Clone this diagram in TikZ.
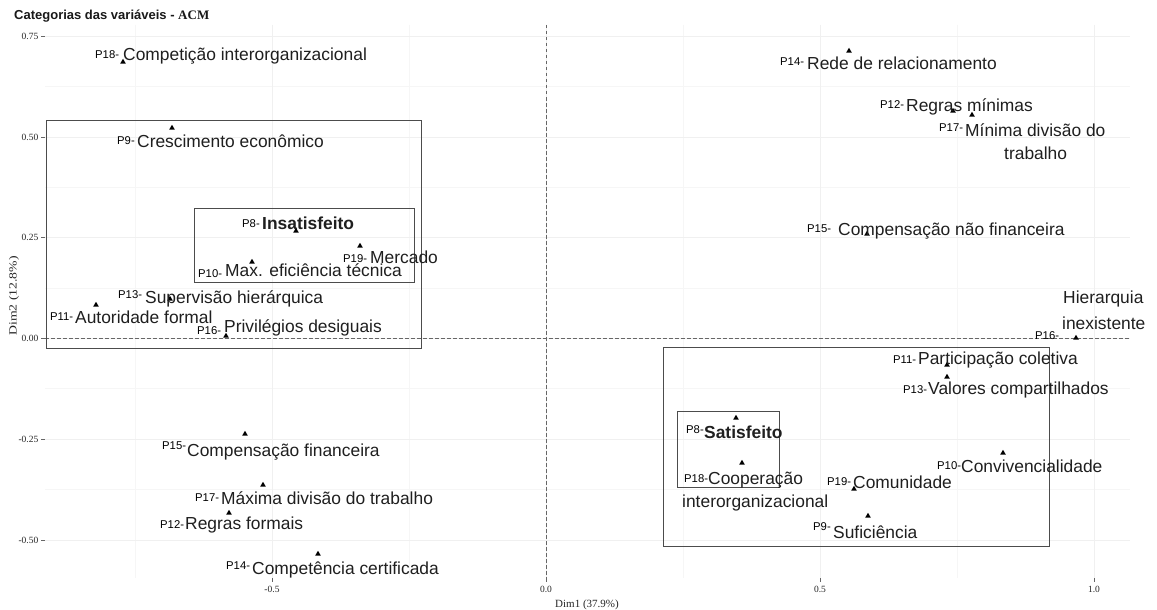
\documentclass[tikz,border=0pt]{standalone}
\usepackage{fontspec}
\setmainfont{Liberation Sans}
\newfontfamily\seriff{Liberation Serif}
\usetikzlibrary{shapes.geometric}
\begin{document}
\begin{tikzpicture}[x=1pt,y=-1pt,
  lab/.style={anchor=base west,inner sep=0pt,font=\fontsize{17.4}{20}\selectfont,text=black!88},
  pre/.style={anchor=base west,inner sep=0pt,font=\fontsize{11.3}{13}\selectfont,text=black},
  tri/.style={regular polygon,regular polygon sides=3,fill=black,inner sep=0pt,minimum size=6.5pt},
  gridmaj/.style={draw=black!6,line width=0.6pt},
  gridmin/.style={draw=black!3.5,line width=0.5pt},
  zeroline/.style={draw=black!60,dash pattern=on 3.5pt off 2.5pt,line width=0.8pt},
  grpbox/.style={draw=black!70,line width=0.8pt},
  tickmark/.style={draw=black!60,line width=0.5pt},
  tickl/.style={font=\seriff\fontsize{9.5}{11}\selectfont,inner sep=0pt,text=black!85}]
\fill[white] (0,0) rectangle (1157,610);
\useasboundingbox (0,0) rectangle (1157,610);
% grid
\foreach \x in {135,409,683,957} \draw[gridmin] (\x,25) -- (\x,578);
\foreach \y in {86,187,288,388,489} \draw[gridmin] (45,\y) -- (1130,\y);
\foreach \x in {272,546,820,1094} \draw[gridmaj] (\x,25) -- (\x,578);
\foreach \y in {36,137,237,338,439,540} \draw[gridmaj] (45,\y) -- (1130,\y);
% zero lines
\coordinate (hl) at (45,338); \coordinate (hr) at (1130,338);
\coordinate (vt) at (546,25); \coordinate (vb) at (546,578);
\draw[zeroline] (hl) -- (hr);
\draw[zeroline] (vt) -- (vb);
% axes ticks
\foreach \y/\t in {36/0.75,137/0.50,237/0.25,338/0.00,439/-0.25,540/-0.50}{
  \draw[tickmark] (41,\y) -- (45,\y);
  \node[tickl,anchor=east] at (38.5,\y) {\t};}
\foreach \x/\t in {272/-0.5,546/0.0,820/0.5,1094/1.0}{
  \draw[tickmark] (\x,578) -- (\x,582);
  \node[tickl,anchor=base] at (\x,592) {\t};}
\node[inner sep=0pt,anchor=base,font=\seriff\fontsize{11}{13}\selectfont,text=black!85] (xlab) at (587,607) {Dim1 (37.9\%)};
\node[inner sep=0pt,rotate=90,font=\seriff\fontsize{11}{13}\selectfont,text=black!85] (ylab) at (14,296) {\scalebox{1.25}[1]{Dim2 (12.8\%)}};
% title
\node[inner sep=0pt,anchor=base west,font=\bfseries\fontsize{13}{15}\selectfont,text=black!90] (title) at (14,20) {Categorias das variáveis - {\seriff\bfseries ACM}};
% boxes
\draw[grpbox] (46,120) rectangle (421,348);
\draw[grpbox] (194,208) rectangle (414,282);
\draw[grpbox] (663,347) rectangle (1049,546);
\draw[grpbox] (677,411) rectangle (779,487);
% points and labels (left)
\node[tri] (t1) at (123,62) {};
\node[pre] (p1) at (95,59) {P18-};
\node[lab] (l1) at (123,61) {Competição interorganizacional};
\node[tri] (t2) at (172,128) {};
\node[pre] (p2) at (117,144) {P9-};
\node[lab] (l2) at (137,147) {Crescimento econômico};
\node[tri] (t3) at (296,231) {};
\node[pre] (p3) at (242,227) {P8-};
\node[lab,font=\bfseries\fontsize{17.4}{20}\selectfont] (l3) at (262,229) {Insatisfeito};
\node[tri] (t4) at (360,246) {};
\node[pre] (p4) at (343,262) {P19-};
\node[lab] (l4) at (370,263) {Mercado};
\node[tri] (t5) at (252,262) {};
\node[pre] (p5) at (198,277) {P10-};
\node[lab] (l5) at (225,276) {Max. eficiência técnica};
\node[tri] (t6) at (170,299) {};
\node[pre] (p6) at (118,298) {P13-};
\node[lab] (l6) at (145,303) {Supervisão hierárquica};
\node[tri] (t7) at (96,305) {};
\node[pre] (p7) at (50,320) {P11-};
\node[lab] (l7) at (75,323) {Autoridade formal};
\node[tri] (t8) at (226,336) {};
\node[pre] (p8) at (197,334) {P16-};
\node[lab] (l8) at (224,332) {Privilégios desiguais};
\node[tri] (t9) at (245,434) {};
\node[pre] (p9) at (162,449) {P15-};
\node[lab] (l9) at (187,456) {Compensação financeira};
\node[tri] (t10) at (263,485) {};
\node[pre] (p10) at (195,501) {P17-};
\node[lab] (l10) at (221,504) {Máxima divisão do trabalho};
\node[tri] (t11) at (229,513) {};
\node[pre] (p11) at (160,528) {P12-};
\node[lab] (l11) at (185,529) {Regras formais};
\node[tri] (t12) at (318,554) {};
\node[pre] (p12) at (226,569) {P14-};
\node[lab] (l12) at (252,574) {Competência certificada};
% right
\node[tri] (t13) at (849,51) {};
\node[pre] (p13) at (780,66) {P14-};
\node[lab] (l13) at (807,70) {Rede de relacionamento};
\node[tri] (t14) at (953,111) {};
\node[pre] (p14) at (880,109) {P12-};
\node[lab] (l14) at (906,111) {Regras mínimas};
\node[tri] (t15) at (972,115) {};
\node[pre] (p15) at (939,131) {P17-};
\node[lab] (l15) at (965,136) {Mínima divisão do};
\node[lab] (l15b) at (1004,159) {trabalho};
\node[tri] (t16) at (867,234) {};
\node[pre] (p16) at (807,232) {P15-};
\node[lab] (l16) at (838,235) {Compensação não financeira};
\node[tri] (t17) at (1076,338) {};
\node[pre] (p17) at (1035,339) {P16-};
\node[lab] (l17) at (1063,303) {Hierarquia};
\node[lab] (l17b) at (1062,329) {inexistente};
\node[tri] (t18) at (947,365) {};
\node[pre] (p18) at (893,363) {P11-};
\node[lab] (l18) at (918,364) {Participação coletiva};
\node[tri] (t19) at (947,377) {};
\node[pre] (p19) at (903,393) {P13-};
\node[lab] (l19) at (928,394) {Valores compartilhados};
\node[tri] (t20) at (736,418) {};
\node[pre] (p20) at (686,433) {P8-};
\node[lab,font=\bfseries\fontsize{17.4}{20}\selectfont] (l20) at (704,438) {Satisfeito};
\node[tri] (t21) at (742,463) {};
\node[pre] (p21) at (684,482) {P18-};
\node[lab] (l21) at (708,484) {Cooperação};
\node[lab] (l21b) at (682,507) {interorganizacional};
\node[tri] (t22) at (854,489) {};
\node[pre] (p22) at (827,485) {P19-};
\node[lab] (l22) at (853,488) {Comunidade};
\node[tri] (t23) at (1003,453) {};
\node[pre] (p23) at (937,469) {P10-};
\node[lab] (l23) at (961,472) {Convivencialidade};
\node[tri] (t24) at (868,516) {};
\node[pre] (p24) at (813,530) {P9-};
\node[lab] (l24) at (833,538) {Suficiência};
\end{tikzpicture}
\end{document}
